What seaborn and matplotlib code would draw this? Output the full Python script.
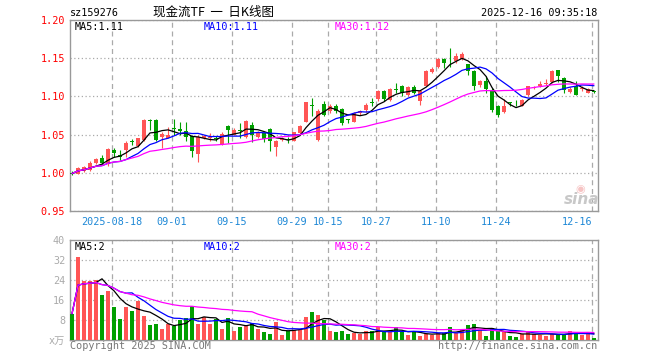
import matplotlib
matplotlib.use('Agg')
import matplotlib.pyplot as plt
import seaborn as sns
import numpy as np
import pandas as pd

sns.set_theme(style='white')
plt.rcParams['font.family'] = ['DejaVu Sans Mono', 'Noto Sans CJK SC']

# ---- data (daily K-line, 88 sessions) ----
opens = [1.000, 0.999, 1.003, 1.004, 1.013, 1.019, 1.012, 1.030, 1.023, 1.030,
         1.041, 1.035, 1.043, 1.069, 1.069, 1.047, 1.046, 1.058, 1.057, 1.055,
         1.048, 1.024, 1.046, 1.045, 1.046, 1.038, 1.061, 1.050, 1.056, 1.0475,
         1.063, 1.047, 1.052, 1.057, 1.034, 1.043, 1.044, 1.042, 1.0515, 1.067,
         1.0885, 1.043, 1.090, 1.081, 1.088, 1.084, 1.070, 1.067, 1.0785, 1.0816,
         1.093, 1.0965, 1.1074, 1.0955, 1.1095, 1.114, 1.102, 1.112, 1.0934, 1.114,
         1.132, 1.138, 1.149, 1.1475, 1.1457, 1.1488, 1.1427, 1.1335, 1.1143, 1.1204,
         1.109, 1.0877, 1.0795, 1.0915, 1.0905, 1.0877, 1.1012, 1.1108, 1.113, 1.1165,
         1.1182, 1.1348, 1.124, 1.1056, 1.1139, 1.1095, 1.1051, 1.1065]
highs = [1.002, 1.008, 1.009, 1.015, 1.020, 1.023, 1.033, 1.033, 1.030, 1.041,
         1.044, 1.046, 1.070, 1.071, 1.070, 1.054, 1.060, 1.070, 1.066, 1.066,
         1.050, 1.049, 1.050, 1.052, 1.048, 1.053, 1.063, 1.058, 1.065, 1.069,
         1.066, 1.055, 1.054, 1.058, 1.043, 1.047, 1.047, 1.054, 1.063, 1.093,
         1.098, 1.084, 1.094, 1.090, 1.090, 1.085, 1.070, 1.079, 1.082, 1.092,
         1.098, 1.109, 1.109, 1.111, 1.118, 1.115, 1.114, 1.115, 1.108, 1.134,
         1.138, 1.150, 1.150, 1.163, 1.157, 1.158, 1.143, 1.1345, 1.122, 1.1265,
         1.111, 1.089, 1.0965, 1.093, 1.095, 1.097, 1.114, 1.113, 1.1204, 1.1225,
         1.134, 1.1348, 1.125, 1.112, 1.1204, 1.1139, 1.111, 1.107]
lows = [0.997, 0.998, 1.001, 1.003, 1.011, 1.010, 1.009, 1.021, 1.017, 1.021,
        1.036, 1.034, 1.042, 1.056, 1.042, 1.033, 1.045, 1.049, 1.049, 1.041,
        1.021, 1.014, 1.044, 1.041, 1.042, 1.036, 1.039, 1.049, 1.045, 1.046,
        1.040, 1.045, 1.040, 1.029, 1.022, 1.041, 1.039, 1.041, 1.050, 1.066,
        1.075, 1.041, 1.075, 1.078, 1.078, 1.0625, 1.065, 1.066, 1.076, 1.080,
        1.087, 1.094, 1.094, 1.094, 1.105, 1.100, 1.100, 1.103, 1.089, 1.113,
        1.131, 1.137, 1.137, 1.138, 1.144, 1.147, 1.128, 1.1086, 1.112, 1.104,
        1.079, 1.0724, 1.078, 1.088, 1.087, 1.087, 1.100, 1.1095, 1.112, 1.115,
        1.1173, 1.1182, 1.1043, 1.104, 1.102, 1.107, 1.104, 1.104]
closes = [0.999, 1.006, 1.007, 1.013, 1.018, 1.013, 1.031, 1.026, 1.021, 1.039,
          1.040, 1.045, 1.069, 1.068, 1.043, 1.051, 1.050, 1.057, 1.055, 1.047,
          1.029, 1.047, 1.048, 1.047, 1.044, 1.051, 1.056, 1.056, 1.055, 1.068,
          1.050, 1.053, 1.044, 1.041, 1.041, 1.045, 1.043, 1.053, 1.0615, 1.093,
          1.088, 1.081, 1.076, 1.088, 1.081, 1.065, 1.069, 1.078, 1.0805, 1.089,
          1.092, 1.1065, 1.0965, 1.1095, 1.109, 1.104, 1.112, 1.105, 1.1065, 1.1326,
          1.136, 1.149, 1.1435, 1.147, 1.1535, 1.1558, 1.1326, 1.113, 1.1208, 1.1095,
          1.0825, 1.0759, 1.0877, 1.091, 1.0895, 1.0955, 1.113, 1.1117, 1.116, 1.1175,
          1.1326, 1.127, 1.1086, 1.1099, 1.102, 1.1113, 1.1095, 1.1052]
volumes = [10.5, 33.4, 23.5, 23.5, 23.9, 18.1, 19.8, 13.1, 8.5, 13.1,
           11.7, 15.5, 9.5, 5.9, 6.5, 4.5, 6.4, 5.5, 7.9, 9.0,
           13.7, 6.5, 9.1, 6.5, 8.5, 4.5, 9.0, 3.7, 5.1, 6.2,
           6.9, 4.5, 3.2, 2.5, 7.1, 2.1, 3.5, 4.1, 4.1, 9.3,
           11.3, 10.1, 8.1, 3.7, 3.1, 3.5, 2.5, 2.8, 2.3, 3.7,
           3.7, 5.1, 3.1, 3.1, 5.1, 3.1, 2.1, 3.5, 1.5, 2.5,
           2.1, 2.8, 2.8, 5.3, 2.8, 4.5, 6.1, 6.5, 4.1, 1.7,
           4.8, 3.5, 3.1, 1.7, 1.3, 2.5, 3.5, 2.5, 2.1, 1.7,
           2.3, 2.5, 2.5, 3.5, 3.0, 2.1, 3.2, 0.7]

date_tick_idx = [7, 17, 27, 37, 43, 51, 61, 71, 87]
date_labels = ['2025-08-18', '09-01', '09-15', '09-29', '10-15',
               '10-27', '11-10', '11-24', '12-16']
price_ticks = [0.95, 1.00, 1.05, 1.10, 1.15, 1.20]
price_tick_labels = ['0.95', '1.00', '1.05', '1.10', '1.15', '1.20']
vol_ticks = [0, 8, 16, 24, 32, 40]
vol_tick_labels = ['x万', '8', '16', '24', '32', '40']

RED = '#ff5555'
GREEN = '#009f00'
GRID = '#aaaaaa'
SPINE = '#999999'

o = np.array(opens); h = np.array(highs); l = np.array(lows); c = np.array(closes)
v = np.array(volumes)
n = len(c)
idx = np.arange(n)
colors = np.where(c >= o, RED, GREEN)

ma_price = {k: pd.Series(c).rolling(k, min_periods=1).mean().values for k in (5, 10, 30)}
ma_vol = {k: pd.Series(v).rolling(k, min_periods=1).mean().values for k in (5, 10, 30)}
ma_colors = {5: 'black', 10: '#0000ff', 30: '#ff00ff'}

W, H = 660, 360
fig = plt.figure(figsize=(W / 100, H / 100), dpi=100)
fig.patch.set_facecolor('white')
ax = fig.add_axes([70 / W, 149 / H, 528 / W, 191 / H])
axv = fig.add_axes([70 / W, 20 / H, 528 / W, 100 / H])

grid_x = [t - 1 / 3 for t in date_tick_idx]

for a in (ax, axv):
    a.set_facecolor('white')
    a.set_xlim(-1 / 3, n - 1 + 2 / 3)
    for s in a.spines.values():
        s.set_color(SPINE)
        s.set_linewidth(1.0)
        s.set_visible(True)
    a.set_xticks(grid_x)
    a.tick_params(axis='both', length=0)
    a.xaxis.grid(True, linestyle=(0, (4, 3)), color=GRID, linewidth=0.9)
    a.yaxis.grid(True, linestyle=(0, (1, 2)), color=GRID, linewidth=0.9)
    a.set_axisbelow(True)

# ---- price panel ----
ax.vlines(idx, l, h, colors=colors, linewidth=0.8, zorder=2)
body_bottom = np.minimum(o, c)
body_h = np.maximum(np.abs(c - o), 0.0012)
ax.bar(idx, body_h, bottom=body_bottom, width=0.8, color=colors, linewidth=0, zorder=3)
for k in (5, 10, 30):
    sns.lineplot(x=idx, y=ma_price[k], ax=ax, color=ma_colors[k], linewidth=0.9, zorder=4)
ax.set_ylim(0.95, 1.20)
ax.set_yticks(price_ticks)
ax.set_yticklabels(price_tick_labels, color='#ff0000', fontsize=7.3)
ax.tick_params(axis='y', pad=3.5)
ax.set_xticklabels(date_labels, color='#1e88d6', fontsize=7.3)
ax.tick_params(axis='x', pad=4.5)
ax.get_xticklabels()[-1].set_ha('right')
ax.set_xlabel(''); ax.set_ylabel('')

# ---- volume panel ----
axv.bar(idx, v, width=0.8, color=colors, linewidth=0, zorder=3)
for k in (5, 10, 30):
    sns.lineplot(x=idx, y=ma_vol[k], ax=axv, color=ma_colors[k], linewidth=0.9, zorder=4)
axv.set_ylim(0, 40)
axv.set_yticks(vol_ticks)
axv.set_yticklabels(vol_tick_labels, color='#aaaaaa', fontsize=7.3)
axv.tick_params(axis='y', pad=3.5)
axv.set_xticklabels([])
axv.set_xlabel(''); axv.set_ylabel('')


def ftext(x, y, s, **kw):
    fig.text(x / W, 1 - y / H, s, va='center', **kw)


ftext(70, 13, 'sz159276', fontsize=7.3, color='black', ha='left')
ftext(213, 12.5, '现金流TF  一  日K线图', fontsize=9, color='black', ha='center',
      family=['Noto Sans CJK SC', 'DejaVu Sans'])
ftext(597, 13, '2025-12-16 09:35:18', fontsize=7.3, color='black', ha='right')

ftext(75, 26.5, 'MA5:1.11', fontsize=7.3, color='black', ha='left')
ftext(204, 26.5, 'MA10:1.11', fontsize=7.3, color='#0000ff', ha='left')
ftext(335, 26.5, 'MA30:1.12', fontsize=7.3, color='#ff00ff', ha='left')

ftext(75, 246.5, 'MA5:2', fontsize=7.3, color='black', ha='left')
ftext(204, 246.5, 'MA10:2', fontsize=7.3, color='#0000ff', ha='left')
ftext(335, 246.5, 'MA30:2', fontsize=7.3, color='#ff00ff', ha='left')

ftext(70, 346, 'Copyright 2025 SINA.COM', fontsize=7.3, color='#777777', ha='left')
ftext(597, 346, 'http://finance.sina.com.cn', fontsize=7.3, color='#777777', ha='right')

# sina watermark
ftext(580, 189, '◉', fontsize=8, color='#f6c4c4', ha='center', family=['DejaVu Sans'])
ftext(582, 200, 'sina', fontsize=11, color='#c8c8c8', ha='center',
      family=['DejaVu Sans'], style='italic', weight='bold')

fig.savefig('out.png', dpi=100, facecolor='white')
